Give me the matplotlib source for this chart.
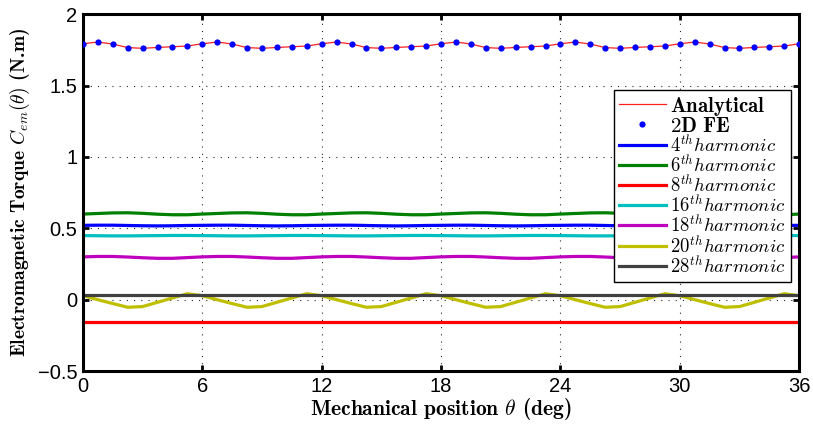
'''
Electromagnetic torque: analytical vs 2D FE, plus harmonic contributions
'''

import numpy as np
import matplotlib
matplotlib.use('Agg')
import matplotlib.pyplot as plt
from matplotlib.ticker import FuncFormatter

# mechanical position samples (deg), 0.75 deg step
theta = np.linspace(0, 36, 49)

# total torque (analytical curve and FE points)
fe_torque = [1.793, 1.805, 1.791, 1.766, 1.761, 1.767, 1.772, 1.777,
             1.793, 1.805, 1.791, 1.766, 1.761, 1.767, 1.772, 1.777,
             1.793, 1.805, 1.791, 1.766, 1.761, 1.767, 1.772, 1.777,
             1.793, 1.805, 1.791, 1.766, 1.761, 1.767, 1.772, 1.777,
             1.793, 1.805, 1.791, 1.766, 1.761, 1.767, 1.772, 1.777,
             1.793, 1.805, 1.791, 1.766, 1.761, 1.767, 1.772, 1.777,
             1.793]
analytical_torque = fe_torque

harm4 = [0.521, 0.522, 0.522, 0.520, 0.518, 0.517, 0.518, 0.520,
         0.521, 0.522, 0.522, 0.520, 0.518, 0.517, 0.518, 0.520,
         0.521, 0.522, 0.522, 0.520, 0.518, 0.517, 0.518, 0.520,
         0.521, 0.522, 0.522, 0.520, 0.518, 0.517, 0.518, 0.520,
         0.521, 0.522, 0.522, 0.520, 0.518, 0.517, 0.518, 0.520,
         0.521, 0.522, 0.522, 0.520, 0.518, 0.517, 0.518, 0.520,
         0.521]
harm6 = [0.600, 0.604, 0.608, 0.609, 0.605, 0.599, 0.595, 0.595,
         0.600, 0.604, 0.608, 0.609, 0.605, 0.599, 0.595, 0.595,
         0.600, 0.604, 0.608, 0.609, 0.605, 0.599, 0.595, 0.595,
         0.600, 0.604, 0.608, 0.609, 0.605, 0.599, 0.595, 0.595,
         0.600, 0.604, 0.608, 0.609, 0.605, 0.599, 0.595, 0.595,
         0.600, 0.604, 0.608, 0.609, 0.605, 0.599, 0.595, 0.595,
         0.600]
harm8 = [-0.157, -0.157, -0.157, -0.157, -0.157, -0.157, -0.157, -0.157,
         -0.157, -0.157, -0.157, -0.157, -0.157, -0.157, -0.157, -0.157,
         -0.157, -0.157, -0.157, -0.157, -0.157, -0.157, -0.157, -0.157,
         -0.157, -0.157, -0.157, -0.157, -0.157, -0.157, -0.157, -0.157,
         -0.157, -0.157, -0.157, -0.157, -0.157, -0.157, -0.157, -0.157,
         -0.157, -0.157, -0.157, -0.157, -0.157, -0.157, -0.157, -0.157,
         -0.157]
harm16 = [0.449, 0.448, 0.447, 0.447, 0.448, 0.449, 0.450, 0.450,
          0.449, 0.448, 0.447, 0.447, 0.448, 0.449, 0.450, 0.450,
          0.449, 0.448, 0.447, 0.447, 0.448, 0.449, 0.450, 0.450,
          0.449, 0.448, 0.447, 0.447, 0.448, 0.449, 0.450, 0.450,
          0.449, 0.448, 0.447, 0.447, 0.448, 0.449, 0.450, 0.450,
          0.449, 0.448, 0.447, 0.447, 0.448, 0.449, 0.450, 0.450,
          0.449]
harm18 = [0.300, 0.303, 0.303, 0.299, 0.294, 0.290, 0.290, 0.295,
          0.300, 0.303, 0.303, 0.299, 0.294, 0.290, 0.290, 0.295,
          0.300, 0.303, 0.303, 0.299, 0.294, 0.290, 0.290, 0.295,
          0.300, 0.303, 0.303, 0.299, 0.294, 0.290, 0.290, 0.295,
          0.300, 0.303, 0.303, 0.299, 0.294, 0.290, 0.290, 0.295,
          0.300, 0.303, 0.303, 0.299, 0.294, 0.290, 0.290, 0.295,
          0.300]
harm20 = [0.028, 0.000, -0.027, -0.053, -0.048, -0.018, 0.012, 0.042,
          0.028, 0.000, -0.027, -0.053, -0.048, -0.018, 0.012, 0.042,
          0.028, 0.000, -0.027, -0.053, -0.048, -0.018, 0.012, 0.042,
          0.028, 0.000, -0.027, -0.053, -0.048, -0.018, 0.012, 0.042,
          0.028, 0.000, -0.027, -0.053, -0.048, -0.018, 0.012, 0.042,
          0.028, 0.000, -0.027, -0.053, -0.048, -0.018, 0.012, 0.042,
          0.028]
harm28 = [0.030, 0.030, 0.030, 0.030, 0.030, 0.030, 0.030, 0.030,
          0.030, 0.030, 0.030, 0.030, 0.030, 0.030, 0.030, 0.030,
          0.030, 0.030, 0.030, 0.030, 0.030, 0.030, 0.030, 0.030,
          0.030, 0.030, 0.030, 0.030, 0.030, 0.030, 0.030, 0.030,
          0.030, 0.030, 0.030, 0.030, 0.030, 0.030, 0.030, 0.030,
          0.030, 0.030, 0.030, 0.030, 0.030, 0.030, 0.030, 0.030,
          0.030]

harmonic_orders = ['4', '6', '8', '16', '18', '20', '28']
harmonic_colors = ['#0000ff', '#008000', '#ff0000', '#00bfbf',
                   '#bf00bf', '#bfbf00', '#404040']

x_ticks = [0, 6, 12, 18, 24, 30, 36]
y_ticks = [-0.5, 0, 0.5, 1, 1.5, 2]


def fmt_tick(v, pos):
    return '{:g}'.format(v).replace('-', '\u2212')


def make_plot():
    plt.rcParams['font.family'] = ['Liberation Sans', 'DejaVu Sans']
    plt.rcParams['mathtext.fontset'] = 'cm'

    fig = plt.figure(figsize=(8.13, 4.30), dpi=100)
    ax = fig.add_axes([0.102, 0.137, 0.881, 0.830])

    ax.plot(theta, analytical_torque, color='#ff2020', lw=0.9,
            label=r'$\mathbf{Analytical}$', zorder=3)
    ax.plot(theta, fe_torque, 'o', color='#0000ff', ms=4.5, mec='none',
            label=r'$\mathbf{2D\ FE}$', zorder=4)

    harmonics = [harm4, harm6, harm8, harm16, harm18, harm20, harm28]
    for order, values, color in zip(harmonic_orders, harmonics, harmonic_colors):
        ax.plot(theta, values, color=color, lw=2.3,
                label=r'$%s^{th}harmonic$' % order, zorder=2)

    ax.set_xlim(0, 36)
    ax.set_ylim(-0.5, 2)
    ax.set_xticks(x_ticks)
    ax.set_yticks(y_ticks)
    ax.xaxis.set_major_formatter(FuncFormatter(fmt_tick))
    ax.yaxis.set_major_formatter(FuncFormatter(fmt_tick))
    ax.tick_params(direction='in', length=4, width=2, labelsize=14.5,
                   top=True, right=True, pad=4)
    for spine in ax.spines.values():
        spine.set_linewidth(2.2)
        spine.set_color('k')

    ax.grid(True, color='0.15', lw=0.8, ls=(0, (1, 5.5)))

    ax.set_xlabel(r'Mechanical position $\theta$ (deg)', fontfamily='cmb10',
                  fontsize=15.5, labelpad=0)
    ax.set_ylabel(r'Electromagnetic Torque $C_{em}(\theta)$ (N.m)',
                  fontfamily='cmb10', fontsize=14, labelpad=4)

    leg = ax.legend(loc='lower right', bbox_to_anchor=(0.988, 0.25),
                    borderaxespad=0, fontsize=13.5, numpoints=1,
                    handlelength=2.5, handleheight=1.0, handletextpad=0.25,
                    labelspacing=-0.06, borderpad=0.25, fancybox=False,
                    framealpha=1, edgecolor='k')
    leg.get_frame().set_linewidth(1.0)
    leg.set_zorder(10)
    # bold entries look larger in the original
    for txt in leg.get_texts()[:2]:
        txt.set_fontsize(15)

    fig.savefig('out.png', dpi=100)
    plt.close(fig)


def main():
    make_plot()


if __name__ == '__main__':
    main()
